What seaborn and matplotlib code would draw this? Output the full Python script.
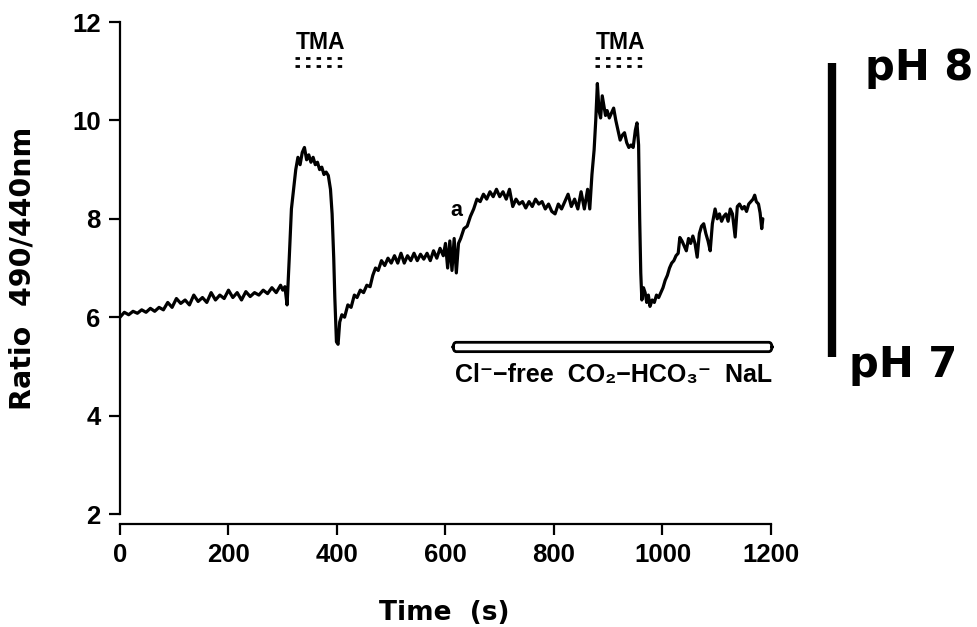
import matplotlib
matplotlib.use("Agg")
import matplotlib.pyplot as plt
from matplotlib.patches import FancyBboxPatch
import seaborn as sns
import pandas as pd

# ---- data ----
time_s = [0, 8, 16, 24, 32, 40, 48, 56, 64, 72, 80, 88, 96, 104, 112, 120, 128, 136, 144, 152,
          160, 168, 176, 184, 192, 200, 208, 216, 224, 232, 240, 248, 256, 264, 272, 280, 288, 296,
          300, 304, 308,
          312, 316, 320, 324, 328, 332, 336, 340, 344, 348, 352, 356, 360, 364, 368, 372, 376, 380,
          384, 388, 391, 394, 396, 399, 402, 405, 409, 414, 420, 426, 432, 437, 443, 449, 455, 461,
          466, 471, 476, 482, 488, 494, 500, 506, 512, 518, 524, 530, 536, 542, 548, 554, 560, 566,
          572, 578, 584, 590, 596, 600, 604, 608, 612, 616, 620, 624, 628, 634, 640, 646, 652, 658,
          664, 670, 676, 682, 688, 694, 700, 706, 712, 718, 724, 730, 736, 742, 748, 754, 760, 766,
          772, 778, 784, 790, 796, 802, 808, 814, 820, 826, 832, 838, 844, 850, 856, 862, 866, 870,
          874, 877, 880, 883, 886, 889, 892, 895, 898, 902, 906, 910, 914, 918, 922, 926, 930, 934,
          938, 942, 946, 950, 953, 956, 958, 960, 962, 965, 968, 971, 974, 977, 981, 985, 989, 993,
          997, 1001, 1005, 1009, 1013, 1017, 1021, 1025, 1029, 1032, 1036, 1040, 1044, 1048, 1052,
          1056, 1060, 1064, 1068, 1072, 1076, 1080, 1084, 1088, 1092, 1097, 1101, 1105, 1109, 1113,
          1117, 1121, 1125, 1129, 1134, 1138, 1142, 1147, 1151, 1155, 1159, 1163, 1167, 1170, 1173,
          1177, 1180, 1183, 1185]
ratio = [6.0, 6.1, 6.05, 6.12, 6.08, 6.15, 6.1, 6.18, 6.12, 6.2, 6.15, 6.3, 6.2, 6.38, 6.28, 6.35,
         6.25, 6.45, 6.32, 6.4, 6.3, 6.5, 6.35, 6.45, 6.38, 6.55, 6.4, 6.5, 6.35, 6.52, 6.42, 6.5,
         6.45, 6.55, 6.48, 6.6, 6.5, 6.65, 6.55, 6.62, 6.25,
         7.2, 8.2, 8.6, 9.0, 9.25, 9.1, 9.35, 9.45, 9.2, 9.3, 9.15, 9.25, 9.1, 9.15, 9.0, 9.05, 8.9,
         8.95, 8.88, 8.6, 8.1, 7.2, 6.4, 5.5, 5.45, 5.9, 6.05, 6.0, 6.25, 6.2, 6.45, 6.4, 6.55, 6.5,
         6.65, 6.62, 6.85, 7.0, 6.95, 7.15, 7.05, 7.2, 7.1, 7.25, 7.1, 7.3, 7.1, 7.25, 7.15, 7.3,
         7.15, 7.28, 7.18, 7.3, 7.15, 7.35, 7.2, 7.4, 7.25, 7.5, 7.0, 7.55, 6.95, 7.6, 6.9, 7.5, 7.6,
         7.8, 7.85, 8.05, 8.2, 8.4, 8.35, 8.5, 8.4, 8.55, 8.45, 8.6, 8.45, 8.55, 8.4, 8.6, 8.25, 8.4,
         8.3, 8.35, 8.22, 8.35, 8.25, 8.4, 8.3, 8.35, 8.2, 8.3, 8.15, 8.1, 8.3, 8.2, 8.35, 8.5, 8.25,
         8.4, 8.2, 8.55, 8.2, 8.6, 8.2, 8.9, 9.4, 10.0, 10.75, 10.2, 10.05, 10.5, 10.3, 10.1, 10.2,
         10.05, 10.15, 10.25, 10.0, 9.8, 9.6, 9.7, 9.75, 9.55, 9.45, 9.5, 9.45, 9.8, 9.95, 9.5, 8.0,
         6.9, 6.35, 6.6, 6.5, 6.3, 6.45, 6.22, 6.35, 6.3, 6.45, 6.4, 6.5, 6.6, 6.75, 6.85, 7.0, 7.1,
         7.15, 7.25, 7.3, 7.62, 7.55, 7.45, 7.35, 7.6, 7.5, 7.65, 7.5, 7.22, 7.7, 7.85, 7.9, 7.7,
         7.55, 7.35, 7.9, 8.2, 8.0, 8.1, 7.95, 8.05, 8.1, 7.95, 8.2, 8.1, 7.63, 8.25, 8.3, 8.2, 8.25,
         8.15, 8.3, 8.35, 8.4, 8.48, 8.35, 8.3, 8.12, 7.8, 8.0]

x_ticks = [0, 200, 400, 600, 800, 1000, 1200]
y_ticks = [2, 4, 6, 8, 10, 12]
tma_periods = [(323, 415), (876, 971)]
bar_period = (614, 1202)
bar_label = "Cl⁻−free  CO₂−HCO₃⁻  NaL"

df = pd.DataFrame({"Time (s)": time_s, "Ratio": ratio})

sns.set_style("ticks")
plt.rcParams["font.family"] = ["Liberation Sans", "DejaVu Sans"]
plt.rcParams["font.weight"] = "bold"
plt.rcParams["axes.labelweight"] = "bold"
for key in ["text.color", "axes.labelcolor", "xtick.color", "ytick.color", "axes.edgecolor"]:
    plt.rcParams[key] = "black"

wide = ["DejaVu Sans"]

fig = plt.figure(figsize=(9.78, 6.27), dpi=100)
ax = fig.add_axes([0.1227, 0.1802, 0.6656, 0.7847])

sns.lineplot(data=df, x="Time (s)", y="Ratio", ax=ax, color="black", lw=2.3, estimator=None)

ax.set_xlim(0, 1200)
ax.set_ylim(2, 12)
ax.set_xticks(x_ticks)
ax.set_yticks(y_ticks)
ax.tick_params(axis="both", direction="out", length=8, width=1.6, colors="black",
               labelsize=18.5, pad=6)
plt.setp(ax.get_xticklabels() + ax.get_yticklabels(), fontweight="bold")

for s in ["top", "right"]:
    ax.spines[s].set_visible(False)
for s in ["left", "bottom"]:
    ax.spines[s].set_linewidth(1.6)
    ax.spines[s].set_color("black")
ax.spines["bottom"].set_position(("outward", 7))

ax.set_xlabel("Time  (s)", fontsize=19, fontweight="bold", family=wide)
ax.set_ylabel("Ratio  490/440nm", fontsize=20.5, fontweight="bold", family=wide)
ax.xaxis.set_label_coords(0.498, -0.175)
ax.yaxis.set_label_coords(-0.128, 0.5)

# TMA annotations
for (t0, t1) in tma_periods:
    for yy in (11.26, 11.11):
        ax.plot([t0, t1], [yy, yy], color="black", lw=2.0, ls=(0, (1.6, 2.2)),
                solid_capstyle="butt", dash_capstyle="butt", clip_on=False)
    ax.text((t0 + t1) / 2, 11.45, "TMA", ha="center", va="baseline", fontsize=16.5,
            fontweight="bold")

# a label
ax.text(621, 8.05, "a", ha="center", va="baseline", fontsize=15.5, fontweight="bold")

# Cl-free bar
rect = FancyBboxPatch((bar_period[0], 5.30), bar_period[1] - bar_period[0], 0.19,
                      boxstyle="round,pad=0,rounding_size=6", mutation_aspect=0.02,
                      facecolor="white", edgecolor="black", lw=2.0, clip_on=False)
ax.add_patch(rect)
ax.text(bar_period[0] + 3, 4.68, bar_label, ha="left", va="baseline", fontsize=18,
        fontweight="bold")

# pH scale bar
ax.plot([1312, 1312], [5.2, 11.17], color="black", lw=6, solid_capstyle="butt", clip_on=False)
fig.text(0.884, 0.872, "pH 8", fontsize=30, fontweight="bold", ha="left", va="baseline",
         family=wide)
fig.text(0.868, 0.399, "pH 7", fontsize=30, fontweight="bold", ha="left", va="baseline",
         family=wide)

fig.savefig("out.png", dpi=100)
